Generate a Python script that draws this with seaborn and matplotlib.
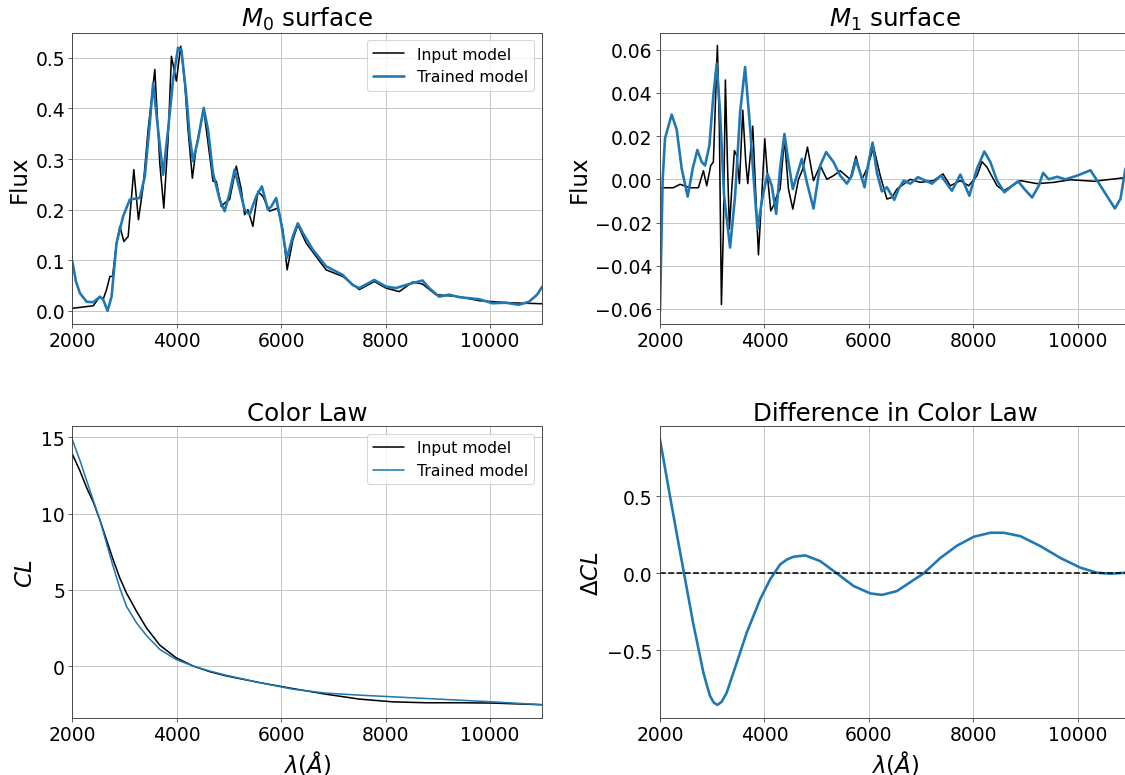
import numpy as np
import pandas as pd
import matplotlib
matplotlib.use("Agg")
import matplotlib.pyplot as plt
import seaborn as sns

# ---------------- data ----------------
m0_trained_wave = [2000, 2070, 2146, 2274, 2401, 2497, 2529, 2592, 2675, 2752, 2847, 2974, 3102, 3293, 3389,
                   3484, 3548, 3643, 3739, 3834, 3930, 4025, 4089, 4185, 4248, 4312, 4407, 4516, 4599,
                   4694, 4822, 4917, 5013, 5108, 5204, 5299, 5395, 5522, 5630, 5745, 5809, 5904, 6000,
                   6108, 6223, 6318, 6414, 6605, 6860, 7178, 7369, 7496, 7783, 8006, 8197, 8452, 8706,
                   8834, 9025, 9216, 9407, 9789, 10044, 10299, 10553, 10745, 10900, 11000]
m0_trained_flux = [0.098, 0.058, 0.035, 0.018, 0.017, 0.025, 0.028, 0.022, 0.0, 0.028, 0.134, 0.187, 0.22, 0.223, 0.266,
                   0.371, 0.45, 0.358, 0.269, 0.358, 0.457, 0.52, 0.516, 0.424, 0.345, 0.296, 0.338, 0.401, 0.358,
                   0.272, 0.22, 0.197, 0.233, 0.279, 0.24, 0.2, 0.19, 0.226, 0.246, 0.2, 0.206, 0.223, 0.173,
                   0.104, 0.147, 0.173, 0.154, 0.121, 0.088, 0.071, 0.051, 0.045, 0.061, 0.048, 0.045, 0.053, 0.06,
                   0.045, 0.028, 0.032, 0.027, 0.023, 0.015, 0.016, 0.012, 0.018, 0.032, 0.048]

m0_input_wave = [2000, 2401, 2529, 2592, 2656, 2720, 2771, 2847, 2911, 2987, 3070, 3178, 3267, 3357,
                 3452, 3580, 3675, 3752, 3834, 3898, 3993, 4076, 4153, 4216, 4299, 4376, 4516, 4694,
                 4758, 4853, 4917, 5013, 5140, 5236, 5299, 5363, 5458, 5554, 5650, 5777, 5936, 6032,
                 6114, 6223, 6318, 6477, 6860, 7178, 7496, 7783, 8006, 8261, 8515, 8706, 8961, 9407,
                 9789, 10362, 11000]
m0_input_flux = [0.005, 0.01, 0.028, 0.023, 0.042, 0.068, 0.068, 0.134, 0.167, 0.137, 0.147, 0.279, 0.18, 0.246,
                 0.358, 0.477, 0.292, 0.203, 0.338, 0.503, 0.454, 0.523, 0.45, 0.358, 0.262, 0.325, 0.398, 0.256,
                 0.256, 0.206, 0.213, 0.22, 0.286, 0.24, 0.19, 0.2, 0.167, 0.236, 0.226, 0.197, 0.203, 0.16,
                 0.081, 0.14, 0.17, 0.134, 0.081, 0.068, 0.042, 0.058, 0.045, 0.038, 0.057, 0.053, 0.032, 0.028,
                 0.02, 0.016, 0.014]

m1_trained_wave = [2000, 2051, 2096, 2224, 2320, 2415, 2530, 2626, 2716, 2799, 2863, 2946, 3022, 3086,
                   3150, 3227, 3342, 3438, 3534, 3629, 3725, 3789, 3866, 3968, 4058, 4141, 4224, 4300,
                   4383, 4460, 4543, 4620, 4716, 4812, 4939, 5067, 5182, 5323, 5451, 5578, 5674, 5751,
                   5834, 5917, 5994, 6070, 6154, 6249, 6345, 6486, 6569, 6665, 6793, 6939, 7208, 7380,
                   7591, 7751, 7924, 8071, 8211, 8326, 8454, 8594, 8741, 8857, 8978, 9125, 9253, 9336,
                   9444, 9604, 9764, 9988, 10243, 10435, 10710, 10818, 10914]
m1_trained_flux = [-0.061, 0.0, 0.019, 0.030, 0.023, 0.005, -0.008, 0.005, 0.0136, 0.008, 0.0064, 0.0157, 0.039, 0.0536,
                   0.031, -0.0076, -0.0316, -0.0076, 0.031, 0.052, 0.024, 0.002, -0.023, -0.0076, 0.0025, -0.003, -0.016, 0.005,
                   0.021, 0.008, -0.0045, 0.0017, 0.0095, -0.0014, -0.0135, 0.0064, 0.0126, 0.008, 0.0017, -0.002, 0.0017, 0.009,
                   0.003, -0.0037, 0.008, 0.017, 0.003, -0.0056, -0.0037, -0.0095, -0.0045, -0.0006, -0.002, 0.001, -0.002, 0.0017,
                   -0.0053, 0.0022, -0.0076, 0.005, 0.0129, 0.008, -0.0006, -0.006, -0.003, -0.0009, -0.0045, -0.0084, -0.003, 0.003,
                   0.0, 0.0012, 0.0, 0.0017, 0.0042, -0.003, -0.0135, -0.009, 0.005]

m1_input_wave = [2000, 2256, 2383, 2575, 2735, 2831, 2895, 2971, 3022, 3099, 3137, 3176, 3214, 3252,
                 3291, 3329, 3374, 3425, 3470, 3521, 3585, 3642, 3681, 3776, 3821, 3885, 3949, 4006,
                 4064, 4121, 4173, 4237, 4300, 4383, 4460, 4543, 4652, 4735, 4824, 4939, 5067, 5195,
                 5323, 5451, 5642, 5751, 5866, 5962, 6090, 6217, 6345, 6441, 6537, 6793, 6984, 7240,
                 7419, 7559, 7751, 7911, 8071, 8166, 8262, 8454, 8582, 8901, 9221, 9540, 9860, 10307,
                 10914]
m1_input_flux = [-0.0039, -0.0039, -0.0023, -0.0039, -0.0039, 0.004, -0.003, 0.0064, 0.008, 0.062, 0.023, -0.058, -0.023, 0.046,
                 0.008, -0.023, -0.0045, 0.0133, 0.011, -0.002, 0.032, 0.008, -0.002, 0.0246, 0.0, -0.035, -0.0076, 0.0188,
                 0.0, -0.0146, -0.0122, -0.0076, -0.0045, 0.0188, -0.0045, -0.0138, 0.0, 0.0048, 0.0149, -0.0006, 0.0064, 0.0,
                 0.0017, 0.004, 0.0, 0.0107, 0.0, 0.0048, 0.0149, 0.0017, -0.0091, -0.0084, -0.0045, 0.0, -0.0014, -0.0006,
                 0.0025, -0.003, -0.0006, -0.003, 0.0017, 0.0082, 0.0056, -0.003, -0.0053, -0.0006, -0.002, -0.0014, -0.0002, -0.0009,
                 0.0008]

cl_wave = [2000, 2146, 2274, 2401, 2529, 2656, 2783, 2911, 3038, 3229, 3420, 3675, 3987, 4312,
           4630, 4949, 5586, 6223, 6860, 7496, 8133, 8770, 9407, 10044, 11000]
cl_input = [13.9, 12.8, 11.7, 10.76, 9.57, 8.26, 6.96, 5.76, 4.78, 3.59, 2.5, 1.37, 0.54, 0.0,
            -0.37, -0.65, -1.09, -1.48, -1.85, -2.17, -2.35, -2.41, -2.41, -2.43, -2.54]
cl_trained = [14.85, 13.48, 12.17, 10.87, 9.57, 8.04, 6.52, 5.1, 3.91, 2.83, 2.0, 1.09, 0.43, 0.0,
              -0.33, -0.61, -1.09, -1.52, -1.78, -1.91, -2.02, -2.13, -2.24, -2.35, -2.54]

dcl_wave = [2000, 2192, 2330, 2460, 2639, 2831, 2900, 2959, 3030, 3099, 3180, 3278, 3470, 3661,
            3917, 4109, 4300, 4430, 4556, 4780, 5067, 5387, 5706, 6026, 6249, 6537, 6856, 7048,
            7368, 7687, 8007, 8326, 8582, 8901, 9285, 9668, 10051, 10371, 10627, 10914]
dcl_values = [0.87, 0.5, 0.24, 0.0, -0.33, -0.645, -0.73, -0.797, -0.84, -0.855, -0.835, -0.775, -0.58, -0.385,
              -0.169, -0.039, 0.058, 0.09, 0.108, 0.117, 0.08, 0.0, -0.082, -0.13, -0.14, -0.115, -0.043, 0.0,
              0.1, 0.18, 0.238, 0.264, 0.264, 0.242, 0.177, 0.1, 0.037, 0.004, -0.002, 0.004]

# ---------------- style ----------------
sns.set_style("ticks")
plt.rcParams.update({
    "font.family": ["DejaVu Sans"],
    "text.color": "black",
    "axes.labelcolor": "black",
    "axes.titlecolor": "black",
    "axes.edgecolor": "#444444",
    "axes.linewidth": 0.9,
    "axes.grid": True,
    "grid.color": "#c4c4c4",
    "grid.linewidth": 0.9,
    "xtick.color": "#444444",
    "ytick.color": "#444444",
    "xtick.labelcolor": "black",
    "ytick.labelcolor": "black",
    "xtick.labelsize": 18,
    "ytick.labelsize": 18,
    "xtick.major.size": 3.5,
    "ytick.major.size": 3.5,
    "xtick.major.pad": 3.5,
    "ytick.major.pad": 3.5,
    "mathtext.fontset": "dejavusans",
})

BLUE = "#1f77b4"
DPI = 75
fig = plt.figure(figsize=(1125 / DPI, 776 / DPI), dpi=DPI)
W, H = 1125.0, 776.0
def rect(x0, y0, x1, y1):
    return [x0 / W, 1 - y1 / H, (x1 - x0) / W, (y1 - y0) / H]

ax0 = fig.add_axes(rect(72.3, 33.5, 542.3, 325))
ax1 = fig.add_axes(rect(660, 33.5, 1130, 325))
ax2 = fig.add_axes(rect(72.3, 427.3, 542.3, 719))
ax3 = fig.add_axes(rect(660, 427.3, 1130, 719))

TITLE = 23.5
LABEL = 22
LEG = 15

# M0
sns.lineplot(x=m0_input_wave, y=m0_input_flux, ax=ax0, color="black", linewidth=1.5,
             label="Input model", estimator=None, sort=False)
sns.lineplot(x=m0_trained_wave, y=m0_trained_flux, ax=ax0, color=BLUE, linewidth=2.5,
             label="Trained model", estimator=None, sort=False)
ax0.set_title(r"$M_0$ surface", fontsize=TITLE)
ax0.set_ylabel("Flux", fontsize=LABEL)
ax0.set_ylim(-0.026, 0.55)
ax0.legend(loc="upper right", fontsize=LEG)

# M1
sns.lineplot(x=m1_input_wave, y=m1_input_flux, ax=ax1, color="black", linewidth=1.5,
             estimator=None, sort=False)
sns.lineplot(x=m1_trained_wave, y=m1_trained_flux, ax=ax1, color=BLUE, linewidth=2.5,
             estimator=None, sort=False)
ax1.set_title(r"$M_1$ surface", fontsize=TITLE)
ax1.set_ylabel("Flux", fontsize=LABEL)
ax1.set_ylim(-0.067, 0.068)

# Color law
sns.lineplot(x=cl_wave, y=cl_input, ax=ax2, color="black", linewidth=1.5,
             label="Input model", estimator=None, sort=False)
sns.lineplot(x=cl_wave, y=cl_trained, ax=ax2, color=BLUE, linewidth=1.5,
             label="Trained model", estimator=None, sort=False)
ax2.set_title("Color Law", fontsize=TITLE)
ax2.set_ylabel(r"$CL$", fontsize=LABEL)
ax2.set_xlabel(r"$\lambda (\AA)$", fontsize=LABEL)
ax2.set_ylim(-3.41, 15.72)
ax2.legend(loc="upper right", fontsize=LEG)

# Difference
sns.lineplot(x=dcl_wave, y=dcl_values, ax=ax3, color=BLUE, linewidth=2.5,
             estimator=None, sort=False)
ax3.axhline(0, color="black", linestyle="--", linewidth=1.5)
ax3.set_title("Difference in Color Law", fontsize=TITLE)
ax3.set_ylabel(r"$\Delta CL$", fontsize=LABEL)
ax3.set_xlabel(r"$\lambda (\AA)$", fontsize=LABEL)
ax3.set_ylim(-0.94, 0.956)

for ax in (ax0, ax1, ax2, ax3):
    ax.set_xlim(2000, 11000)
    ax.set_xticks([2000, 4000, 6000, 8000, 10000])
    ax.grid(True)
    for s in ax.spines.values():
        s.set_visible(True)

fig.savefig("out.png", dpi=DPI)
